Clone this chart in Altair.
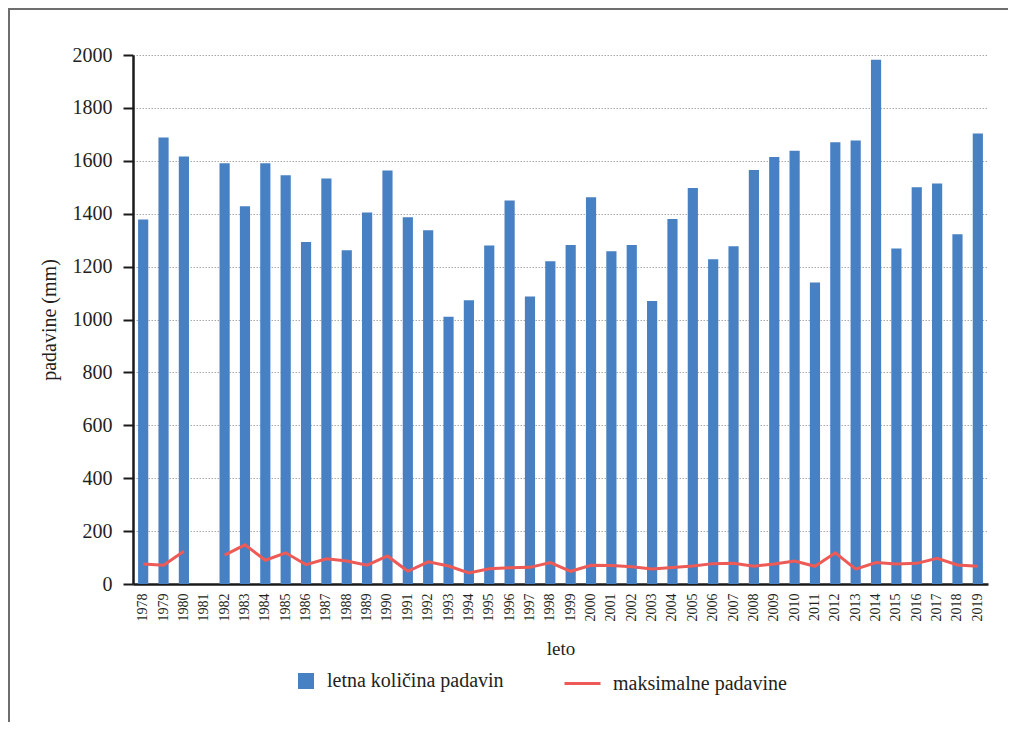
import altair as alt
import pandas as pd

years = [str(y) for y in range(1978, 2020)]
annual = [1378, 1688, 1616, None, 1591, 1428, 1591, 1545, 1293, 1533,
          1262, 1405, 1563, 1387, 1337, 1010, 1073, 1280, 1450, 1087,
          1220, 1282, 1462, 1258, 1282, 1070, 1380, 1497, 1228, 1277,
          1565, 1614, 1638, 1140, 1670, 1677, 1982, 1268, 1500, 1514,
          1322, 1703]
maximum = [76, 71, 124, None, 109, 148, 90, 118, 73, 95,
           87, 71, 106, 48, 84, 68, 42, 58, 61, 63,
           81, 48, 71, 70, 65, 57, 62, 68, 77, 78,
           67, 76, 87, 67, 118, 56, 81, 76, 78, 97,
           72, 67]
bar_name = "letna količina padavin"
line_name = "maksimalne padavine"

df = pd.DataFrame({
    "leto": years,
    "letna": annual,
    "maks": maximum,
    "s_bar": [bar_name] * len(years),
    "s_line": [line_name] * len(years),
})

FONT = "Liberation Serif"
TXT = "#231f20"
BLUE = "#4780c3"
RED = "#ee5a55"

x_enc = alt.X(
    "leto:N",
    scale=alt.Scale(domain=years, paddingInner=0.5, paddingOuter=0.25),
    axis=alt.Axis(
        title="leto", labelAngle=270, labelFontSize=14, labelPadding=9,
        ticks=False, domainColor="#1a1a1a", domainWidth=2.5,
        titleFontSize=19, titlePadding=18, labelOverlap=False,
        grid=False,
    ),
)

bars = alt.Chart(df).mark_bar(color=BLUE).encode(
    x=x_enc,
    y=alt.Y(
        "letna:Q",
        scale=alt.Scale(domain=[0, 2000], nice=False),
        axis=alt.Axis(
            title="padavine (mm)", values=list(range(0, 2001, 200)), format="d",
            labelFontSize=20, tickSize=10, tickWidth=2, tickColor="#1a1a1a",
            labelPadding=11, domainColor="#1a1a1a", domainWidth=2.5,
            titleFontSize=20, titlePadding=13,
            grid=True, gridColor="#aaaaaa", gridDash=[1.5, 1.5], gridWidth=1,
        ),
    ),
    color=alt.Color(
        "s_bar:N", scale=alt.Scale(range=[BLUE]),
        legend=alt.Legend(
            title=None, orient="none", legendX=163, legendY=616,
            symbolType="square", symbolSize=256, symbolStrokeWidth=0,
            labelFontSize=20, labelOffset=11, padding=0, labelLimit=500,
            labelFont=FONT,
        ),
    ),
)

line = alt.Chart(df).mark_line(strokeWidth=3, invalid="break-paths-show-domains").encode(
    x=x_enc,
    y=alt.Y("maks:Q"),
    stroke=alt.Stroke(
        "s_line:N", scale=alt.Scale(range=[RED]),
        legend=alt.Legend(
            title=None, orient="none", legendX=430, legendY=609,
            symbolType="stroke", symbolSize=1296, symbolStrokeWidth=3,
            labelFontSize=20, labelOffset=11, padding=0, labelLimit=500,
            labelFont=FONT,
        ),
    ),
)

frame = alt.Chart(pd.DataFrame({"k": [0]})).mark_rect(
    fill=None, stroke="#6e6e6e", strokeWidth=2
).encode(
    x=alt.value(-124), x2=alt.value(1000),
    y=alt.value(-46), y2=alt.value(1000),
)

chart = alt.layer(frame, bars, line).resolve_scale(
    color="independent", stroke="independent"
).properties(
    width=855, height=529,
    autosize=alt.AutoSizeParams(type="none"),
    padding={"left": 125, "top": 47, "right": 20, "bottom": 138},
).configure(
    font=FONT,
).configure_view(
    stroke=None,
).configure_axis(
    labelFont=FONT, titleFont=FONT, labelColor=TXT, titleColor=TXT,
    titleFontWeight="normal",
).configure_legend(
    labelFont=FONT, labelColor=TXT,
)

chart.save("out.html", embed_options={"renderer": "svg", "actions": False})
